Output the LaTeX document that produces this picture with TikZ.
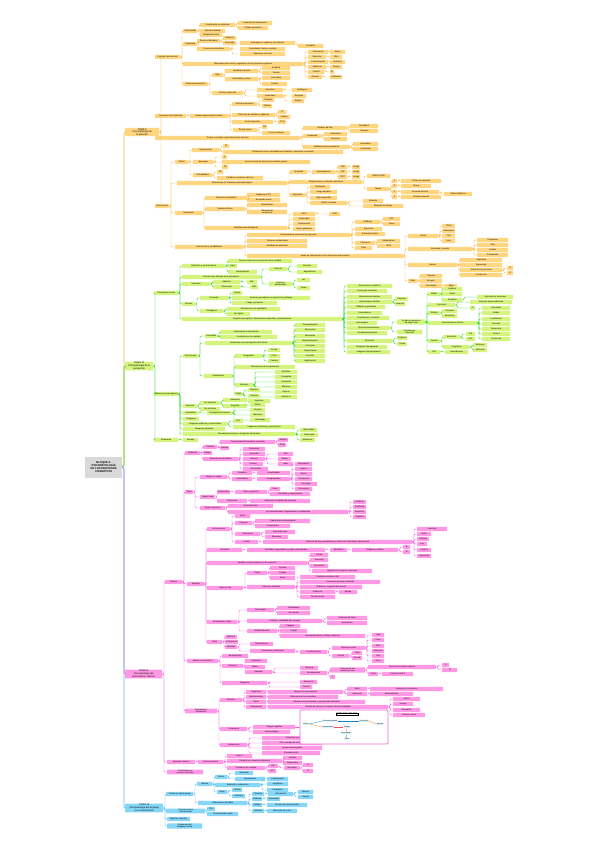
\documentclass[tikz,border=0pt]{standalone}
\usepackage{fontspec}
\setmainfont{Liberation Sans}
\definecolor{ofill}{HTML}{FFD680}\definecolor{oline}{HTML}{F9B84D}
\definecolor{gfill}{HTML}{D5F47E}\definecolor{gline}{HTML}{35D935}
\definecolor{pfill}{HTML}{FF99E6}\definecolor{pline}{HTML}{F36BDD}
\definecolor{bfill}{HTML}{86D6F7}\definecolor{bline}{HTML}{5BBDEB}
\definecolor{rfill}{HTML}{D9D9D9}
\tikzset{
 nd/.style={anchor=west,inner xsep=0.5pt,inner ysep=0.4pt,minimum height=4.3pt,rounded corners=0.5pt,align=center,font=\fontsize{2.1}{2.4}\selectfont},
 tema/.style={nd,minimum height=8pt,font=\fontsize{2.4}{2.8}\selectfont},
 ln/.style={line width=0.45pt,rounded corners=1.2pt},
 tl/.style={line width=0.7pt,rounded corners=1.5pt}
}
\newcommand\mmn[6]{\node[nd,minimum width=#5pt] (#1) at (#3,#4) {#6};\draw[ln] (#2.east) -- ++(1.6,0) |- (#1.west);}
\begin{document}
\begin{tikzpicture}[x=1pt,y=-1pt]
\useasboundingbox[fill=white] (0,0) rectangle (600,848);
\node[anchor=west,fill=rfill,minimum width=37pt,minimum height=21pt,align=center,inner sep=0.5pt,font=\fontsize{2.7}{3.2}\selectfont\bfseries] (R) at (85,467) {BLOQUE 4:\\PSICOPATOLOGÍA\\DE LOS PROCESOS\\COGNITIVOS};
% ================= ORANGE =================
\begin{scope}[nd/.append style={fill=ofill},ln/.append style={draw=oline}]
\node[tema,fill=ofill,minimum width=34pt] (O0) at (125,132) {TEMA 9\\Psicopatología de\\la atención};
\draw[tl,draw=oline] (R.east) -- ++(1.5,0) |- (O0.west);
\mmn{o1}{O0}{155}{57}{25}{Concepto de atención}
\mmn{o11}{o1}{183}{31}{14}{Selectividad}
\mmn{o111}{o11}{200}{25}{35}{Focalización en estímulos}
\mmn{o1111}{o111}{238}{23}{34}{Selección de información}
\mmn{o1112}{o111}{238}{28}{30}{Filtrado perceptivo}
\mmn{o112}{o11}{200}{31}{25}{Atención dividida}
\mmn{o113}{o11}{200}{35}{22}{Búsqueda activa}
\mmn{o12}{o1}{183}{44}{14}{Capacidad}
\mmn{o121}{o12}{197}{41}{23}{Recursos limitados}
\mmn{o1211}{o121}{223}{38}{13}{Esfuerzo}
\mmn{o1212}{o121}{223}{43}{13}{Demanda}
\mmn{o122}{o12}{197}{49}{33}{Procesos automáticos}
\mmn{o1221}{o122}{240}{43}{55}{Automáticos: rápidos y sin esfuerzo}
\mmn{o12211}{o1221}{298}{46}{25}{Paralelos}
\mmn{o1222}{o122}{240}{49}{45}{Controlados: lentos y seriales}
\mmn{o1223}{o122}{240}{54}{45}{Requieren recursos}
\mmn{o13}{o1}{183}{64}{120}{Mecanismo de control y regulación de los procesos cognitivos}
\mmn{o131}{o13}{308}{52}{20}{Orientación}\mmn{o1311}{o131}{330}{52}{15}{Alerta}
\mmn{o132}{o13}{308}{57}{18}{Selección}\mmn{o1321}{o132}{330}{57}{12}{Filtro}
\mmn{o133}{o13}{308}{62}{20}{Concentración}\mmn{o1331}{o133}{330}{62}{15}{Esfuerzo}
\mmn{o134}{o13}{308}{67}{18}{Vigilancia}\mmn{o1341}{o134}{330}{67}{12}{Tiempo}
\mmn{o135}{o13}{308}{72}{16}{Control}\mmn{o1351}{o135}{330}{72}{4}{Sí}
\mmn{o136}{o13}{308}{77}{14}{Arousal}\mmn{o1361}{o136}{330}{77}{12}{Activación}
\mmn{o14}{o1}{183}{84}{25}{Dimensiones básicas}
\mmn{o141}{o14}{212}{75}{11}{Ejes}
\mmn{o1411}{o141}{225}{71}{33}{Amplitud y tensión}
\mmn{o14111}{o1411}{262}{68}{28}{Amplitud}
\mmn{o14112}{o1411}{262}{73}{28}{Tensión}
\mmn{o1412}{o141}{225}{79}{33}{Intensidad y control}
\mmn{o14121}{o1412}{262}{78}{28}{Intensidad}
\mmn{o14122}{o1412}{262}{84}{25}{Control}
\mmn{o142}{o14}{212}{93}{31}{Control y dirección}
\mmn{o1421}{o142}{257}{90}{26}{Voluntario}\mmn{o14211}{o1421}{292}{90}{20}{Endógeno}
\mmn{o1422}{o142}{257}{96}{26}{Involuntario}\mmn{o14221}{o1422}{292}{96}{14}{Exógeno}\mmn{o14222}{o1422}{292}{101}{12}{Reflejo}
\mmn{o2}{O0}{155}{116}{31}{Funciones de la atención}
\mmn{o21}{o2}{190}{116}{38}{Redes atencionales (Posner)}
\mmn{o211}{o21}{232}{104}{25}{Red de orientación}
\mmn{o2111}{o211}{262}{100}{12}{Parietal}\mmn{o2112}{o211}{262}{106}{10}{Tálamo}
\mmn{o212}{o21}{232}{115}{43}{Detección de señales y vigilancia}
\mmn{o2121}{o212}{278}{112}{8}{d'}\mmn{o2122}{o212}{278}{117}{12}{Criterio}
\mmn{o213}{o21}{232}{122}{41}{Control ejecutivo}
\mmn{o2131}{o213}{278}{122}{8}{CCA}
\mmn{o214}{o21}{233}{130}{24}{Red de alerta}
\mmn{o2141}{o214}{262}{127}{5}{NA}\mmn{o2142}{o214}{262}{133}{28}{Locus coeruleus}
\mmn{o3}{O0}{155}{138}{145}{Teorías y modelos explicativos de la atención}
\mmn{o31}{o3}{303}{128}{44}{Modelos de filtro}
\mmn{o311}{o31}{350}{126}{28}{Broadbent}\mmn{o312}{o31}{350}{131}{28}{Treisman}
\mmn{o32}{o3}{303}{136}{18}{Capacidad}
\mmn{o321}{o32}{324}{134}{23}{Kahneman}\mmn{o322}{o32}{324}{139}{23}{Recursos}
\mmn{o33}{o3}{303}{147}{47}{Modelos de procesamiento}
\mmn{o331}{o33}{353}{144}{25}{Automático}\mmn{o332}{o33}{353}{149}{25}{Controlado}
\mmn{o4}{O0}{155}{206}{14}{Alteraciones}
\mmn{o41}{o4}{175}{162}{13}{Déficit}
\mmn{o411}{o41}{192}{150}{27}{Hipoprosexia}
\mmn{o4111}{o411}{223}{146}{6}{Sí}
\mmn{o4112}{o411}{223}{152}{120}{Disminución de la capacidad para focalizar y mantener la atención}
\mmn{o412}{o41}{193}{162}{20}{Aprosexia}
\mmn{o4121}{o412}{222}{157}{5}{y}
\mmn{o4122}{o412}{222}{162}{88}{Ausencia total de atención en estados graves}
\mmn{o4123}{o412}{222}{167}{6}{TB}
\mmn{o413}{o41}{193}{175}{19}{Distraibilidad}
\mmn{o4131}{o413}{217}{172}{6}{TB}\mmn{o4132}{o413}{217}{178}{46}{Cambios constantes del foco}
\mmn{o42}{o4}{177}{183}{110}{Alteraciones en trastornos psicopatológicos}
\mmn{o421}{o42}{290}{172}{17}{Ansiedad}
\mmn{o4211}{o421}{312}{172}{23}{Hipervigilancia}
\mmn{o42111}{o4211}{338}{167}{9}{TAG}\mmn{o421111}{o42111}{352}{167}{8}{Sesgo}
\mmn{o42112}{o4211}{338}{172}{9}{TOC}\mmn{o421121}{o42112}{352}{172}{8}{Sesgo}
\mmn{o42113}{o4211}{338}{177}{9}{TEPT}\mmn{o421131}{o42113}{352}{177}{8}{Sesgo}
\mmn{o422}{o42}{290}{182}{72}{Esquizofrenia y trastornos psicóticos}
\mmn{o4221}{o422}{367}{176}{23}{Déficit SPAN}
\mmn{o4222}{o422}{367}{189}{22}{Tareas}
\mmn{t1}{o4222}{392}{181}{5}{1}\mmn{t11}{t1}{401}{181}{40}{Tiempo de reacción}
\mmn{t2}{o4222}{392}{186}{5}{2}\mmn{t21}{t2}{401}{186}{30}{Stroop}
\mmn{t3}{o4222}{392}{192}{5}{3}\mmn{t31}{t3}{401}{192}{38}{Escucha dicótica}\mmn{t311}{t31}{444}{194}{28}{Déficit inhibitorio}
\mmn{t4}{o4222}{392}{197}{5}{4}\mmn{t41}{t4}{401}{197}{40}{Filtrado sensorial}
\mmn{o423}{o42}{290}{195}{15}{Depresión}
\mmn{o4231}{o423}{310}{187}{20}{Rumiación}
\mmn{o4232}{o423}{310}{192}{27}{Sesgo negativo}
\mmn{o4233}{o423}{310}{198}{27}{Baja capacidad}
\mmn{o4234}{o423}{310}{203}{37}{Déficit en tareas}
\mmn{o42341}{o4234}{363}{201}{20}{Esfuerzo}\mmn{o42342}{o4234}{363}{206}{40}{Memoria de trabajo}
\mmn{o43}{o4}{175}{213}{27}{Evaluación}
\mmn{o431}{o43}{205}{198}{42}{Tareas de rendimiento}
\mmn{o4311}{o431}{247}{195}{33}{Vigilancia (CPT)}\mmn{o4312}{o431}{247}{200}{33}{Búsqueda visual}
\mmn{o432}{o43}{205}{209}{40}{Escalas clínicas}
\mmn{o4321}{o432}{247}{205}{40}{Autoinformes}\mmn{o4322}{o432}{247}{212}{40}{Observación\\conductual}
\mmn{o433}{o43}{205}{228}{82}{Medidas psicofisiológicas}
\mmn{o4331}{o433}{293}{214}{22}{EEG}\mmn{o43311}{o4331}{329}{214}{11}{P300}
\mmn{o4332}{o433}{293}{219}{22}{Potenciales}
\mmn{o4333}{o433}{293}{224}{22}{Pupilometría}
\mmn{o4334}{o433}{293}{229}{22}{Resp. galvánica}
\mmn{o44}{o4}{175}{247}{68}{Intervención y rehabilitación}
\mmn{o441}{o44}{247}{235}{103}{Entrenamiento atencional y programas}
\mmn{o4411}{o441}{355}{222}{25}{Sohlberg}
\mmn{o44111}{o4411}{383}{219}{17}{APT}\mmn{o44112}{o4411}{383}{224}{17}{Fases}
\mmn{o4412}{o441}{355}{229}{27}{Ejercicios}
\mmn{o4413}{o441}{355}{234}{30}{Autoinstrucciones}
\mmn{o4414}{o441}{355}{243}{20}{Fármacos}
\mmn{o44141}{o4414}{377}{241}{23}{Estimulantes}\mmn{o44142}{o4414}{377}{246}{23}{ISRS}
\mmn{o4415}{o441}{355}{248}{17}{Otros}
\mmn{o442}{o44}{247}{241}{60}{Técnicas conductuales}
\mmn{o443}{o44}{247}{246}{60}{Modificación ambiental}
\mmn{o444}{o44}{247}{256}{156}{Áreas de intervención en los trastornos atencionales}
\mmn{a1}{o444}{408}{236}{30}{Clínica}
\mmn{a11}{a1}{442}{226}{13}{TDAH}\mmn{a12}{a1}{442}{231}{13}{Demencias}\mmn{a13}{a1}{442}{236}{13}{TCE}\mmn{a14}{a1}{442}{241}{13}{Ictus}
\mmn{a2}{o444}{408}{249}{64}{Educativa y escolar}
\mmn{a21}{a2}{477}{240}{31}{Programas}\mmn{a22}{a2}{477}{245}{31}{Aula}\mmn{a23}{a2}{477}{250}{31}{Familia}\mmn{a24}{a2}{477}{255}{31}{Profesorado}
\mmn{a3}{o444}{408}{265}{49}{Laboral}
\mmn{a31}{a3}{460}{260}{42}{Seguridad}\mmn{a32}{a3}{460}{265}{42}{Ergonomía}
\mmn{a33}{a3}{460}{270}{42}{Selección de personal}\mmn{a331}{a33}{507}{268}{6}{A}\mmn{a332}{a33}{507}{273}{6}{B}
\mmn{a34}{a3}{460}{275}{42}{Conducción}
\mmn{a4}{o444}{408}{281}{9}{Otros}
\mmn{a41}{a4}{420}{276}{22}{Deporte}\mmn{a42}{a4}{420}{281}{22}{Envejec.}\mmn{a43}{a4}{420}{286}{22}{Tecnología}\mmn{a431}{a43}{445}{286}{12}{Apps}
\end{scope}
% ================= GREEN =================
\begin{scope}[nd/.append style={fill=gfill},ln/.append style={draw=gline}]
\node[tema,fill=gfill,minimum width=28pt] (G0) at (125,366) {TEMA 10\\Psicopatología de la\\percepción};
\draw[tl,draw=gline] (R.east) -- ++(1.5,0) |- (G0.west);
\mmn{g1}{G0}{154}{293}{24}{Percepción normal}
\mmn{g11}{g1}{182}{266}{43}{Definición y características}
\mmn{g111}{g11}{228}{261}{64}{Proceso activo de construcción de la realidad}
\mmn{g112}{g11}{228}{266}{9}{Input}
\mmn{g113}{g11}{228}{272}{29}{Interpretación}
\mmn{g12}{g1}{182}{277}{78}{Factores que influyen en la percepción}
\mmn{g121}{g12}{269}{269}{18}{Internos}
\mmn{g1211}{g121}{297}{266}{20}{Atención}\mmn{g1212}{g121}{297}{272}{25}{Expectativas}
\mmn{g122}{g12}{269}{284}{23}{Externos\\ambientales}
\mmn{g1221}{g122}{297}{280}{13}{Luz}\mmn{g1222}{g122}{297}{288}{13}{Ruido}
\mmn{g13}{g1}{182}{284}{28}{Umbrales}
\mmn{g131}{g13}{213}{282}{27}{Absoluto}\mmn{g1311}{g131}{247}{282}{10}{Mín.}
\mmn{g132}{g13}{213}{287}{27}{Diferencial}\mmn{g1321}{g132}{250}{287}{8}{JND}
\mmn{g14}{g1}{182}{304}{13}{Errores}
\mmn{g141}{g14}{200}{298}{28}{Normales}
\mmn{g1411}{g141}{232}{293}{10}{Sueño}
\mmn{g1412}{g141}{232}{298}{78}{Ilusiones perceptivas en sujetos sin patología}
\mmn{g1413}{g141}{232}{303}{45}{Fatiga y privación}
\mmn{g142}{g14}{200}{311}{23}{Patológicos}
\mmn{g1421}{g142}{227}{309}{53}{Alteraciones con significado}\mmn{g1422}{g142}{227}{314}{23}{Sin objeto}
\mmn{g15}{g1}{182}{319}{160}{Engaños perceptivos: distorsiones sensoriales y alucinaciones}
\mmn{h1}{g15}{347}{286}{45}{Alucinaciones auditivas}
\mmn{h2}{g15}{347}{291}{40}{Voces que comentan}
\mmn{h3}{g15}{347}{297}{45}{Alucinaciones visuales}
\mmn{h4}{g15}{347}{302}{45}{Alucinaciones táctiles}
\mmn{h41}{h4}{395}{299}{13}{Hápticas}\mmn{h42}{h4}{395}{304}{10}{Insectos}
\mmn{h5}{g15}{347}{307}{38}{Olfativas y gustativas}
\mmn{h6}{g15}{347}{313}{35}{Cenestésicas}
\mmn{h7}{g15}{347}{318}{42}{Cinestésicas o motoras}
\mmn{h8}{g15}{347}{323}{30}{Autoscopias}
\mmn{h9}{g15}{347}{328}{43}{Tipos de alucinaciones}
\mmn{h91}{h9}{397}{322}{28}{Se dan en ausencia\\de objeto real}
\mmn{h92}{h9}{397}{332}{25}{Experiencia\\sensorial}
\mmn{i1}{h91}{428}{294}{12}{Modal.}
\mmn{i11}{i1}{442}{289}{20}{Auditiva}\mmn{i12}{i1}{442}{294}{20}{Visual}\mmn{i13}{i1}{442}{300}{20}{Somática}\mmn{i131}{i13}{477}{297}{36}{Corporales y viscerales}
\mmn{i2}{h91}{428}{305}{27}{Funcional}
\mmn{i21}{i2}{470}{302}{42}{Estímulo desencadenante}\mmn{i22}{i2}{470}{308}{5}{Sí}
\mmn{i3}{h91}{428}{313}{12}{Refleja}
\mmn{i31}{i3}{442}{311}{15}{Cruzada}\mmn{i32}{i3}{442}{316}{15}{Sinestesia}
\mmn{i4}{h91}{428}{323}{49}{Características clínicas}
\mmn{i41}{i4}{482}{308}{28}{Intensidad}\mmn{i42}{i4}{482}{313}{28}{Nitidez}\mmn{i43}{i4}{482}{319}{28}{Localización}
\mmn{i44}{i4}{482}{324}{28}{Duración}\mmn{i45}{i4}{482}{329}{28}{Frecuencia}\mmn{i46}{i4}{482}{334}{28}{Control}\mmn{i47}{i4}{482}{339}{28}{Convicción}
\mmn{i5}{h91}{428}{341}{12}{Teorías}
\mmn{i51}{i5}{443}{337}{17}{Neurobiol.}\mmn{i511}{i51}{466}{334}{9}{DA}\mmn{i512}{i51}{466}{339}{9}{5HT}
\mmn{i52}{i5}{443}{347}{27}{Cognitivas}\mmn{i521}{i52}{473}{345}{14}{Metacog.}\mmn{i522}{i52}{473}{350}{14}{Atribución}
\mmn{i6}{h91}{428}{352}{12}{Trat.}
\mmn{i61}{i6}{445}{352}{23}{Neurolépticos}
\mmn{h10}{g15}{347}{333}{40}{Pseudoalucinaciones}
\mmn{h11}{g15}{347}{341}{45}{Alucinosis}
\mmn{h111}{h11}{397}{338}{10}{Orgánica}\mmn{h112}{h11}{397}{344}{10}{Tóxica}
\mmn{h12}{g15}{347}{347}{40}{Imágenes hipnagógicas}
\mmn{h13}{g15}{347}{352}{43}{Imágenes hipnopómpicas}
\mmn{g2}{G0}{154}{394}{24}{Alteraciones perceptivas}
\mmn{g21}{g2}{183}{356}{15}{Distorsiones}
\mmn{g211}{g21}{205}{336}{12}{Intensidad}
\mmn{g2111}{g211}{220}{332}{52}{Hiperestesia e hipoestesia}\mmn{g2112}{g211}{220}{337}{57}{Anomalías en la cualidad}
\mmn{g212}{g21}{205}{343}{87}{Anomalías en la percepción de la forma}
\mmn{j1}{g212}{295}{325}{30}{Dismegalopsias}\mmn{j2}{g212}{295}{330}{30}{Macropsias}\mmn{j3}{g212}{295}{336}{30}{Micropsias}\mmn{j4}{g212}{295}{341}{30}{Metamorfopsias}
\mmn{j5}{g212}{295}{346}{30}{Porropsia}\mmn{j6}{g212}{295}{351}{30}{Dismorfopsia}\mmn{j7}{g212}{295}{356}{30}{Escisión}\mmn{j8}{g212}{295}{361}{30}{Aglutinación}
\mmn{g213}{g21}{204}{376}{28}{Clasificación}
\mmn{g2131}{g213}{235}{356}{27}{Integración}
\mmn{g21311}{g2131}{268}{350}{12}{Forma}\mmn{g21312}{g2131}{268}{356}{12}{Color}\mmn{g21313}{g2131}{268}{361}{12}{Tamaño}
\mmn{g2132}{g213}{235}{367}{60}{Alteraciones de la experiencia}
\mmn{g2133}{g213}{235}{385}{18}{Ilusiones}
\mmn{k1}{g2133}{275}{372}{22}{Afectivas}\mmn{k2}{g2133}{275}{377}{22}{Completad}\mmn{k3}{g2133}{275}{382}{22}{Pareidolia}
\mmn{k4}{g2133}{275}{387}{22}{Mnésicas}\mmn{k5}{g2133}{275}{392}{22}{Déjà vu}\mmn{k6}{g2133}{275}{397}{22}{Jamais vu}
\mmn{g2134}{g213}{235}{394}{7}{Otras}
\mmn{g21341}{g2134}{248}{390}{12}{Despers.}\mmn{g21342}{g2134}{248}{396}{12}{Desreal.}\mmn{g21343}{g2134}{248}{401}{22}{Agnosias}
\mmn{g22}{g2}{183}{406}{14}{Ilusiones}
\mmn{g221}{g22}{200}{403}{20}{Por atención}
\mmn{g2211}{g221}{223}{400}{24}{Inatención}\mmn{g2212}{g221}{223}{406}{24}{Emoción}
\mmn{g222}{g22}{200}{409}{20}{Por estímulo}
\mmn{g23}{g2}{183}{413}{15}{Pareidolias}
\mmn{g231}{g23}{207}{413}{25}{Percepción de formas}
\mmn{g2311}{g231}{250}{405}{15}{Nubes}\mmn{g2312}{g231}{250}{410}{15}{Rostros}\mmn{g2313}{g231}{250}{415}{15}{Manchas}\mmn{g2314}{g231}{250}{420}{20}{Voluntarias}
\mmn{g24}{g2}{183}{419}{16}{Imágenes}
\mmn{g25}{g2}{183}{424}{44}{Imágenes eidéticas y consecutivas}
\mmn{g251}{g25}{233}{421}{10}{Eid.}\mmn{g252}{g25}{233}{427}{62}{Imágenes mnémicas y persistentes}
\mmn{g26}{g2}{183}{429}{42}{Imágenes parásitas}
\mmn{g27}{g2}{183}{434}{112}{Pseudoalucinaciones e imágenes alucinoides}
\mmn{g271}{g27}{300}{430}{17}{Alucinoides}\mmn{g272}{g27}{300}{435}{18}{Autoscopia}\mmn{g273}{g27}{300}{440}{15}{Mnémicas}
\mmn{g3}{G0}{154}{440}{24}{Evaluación}
\mmn{g31}{g3}{183}{440}{15}{Escalas}
\end{scope}
% ================= PINK =================
\begin{scope}[nd/.append style={fill=pfill},ln/.append style={draw=pline}]
\node[tema,fill=pfill,minimum width=37pt] (P0) at (125,674) {TEMA 11\\Psicopatología del\\pensamiento: delirios};
\draw[tl,draw=pline] (R.east) -- ++(1.5,0) |- (P0.west);
\mmn{p1}{P0}{165}{582}{17}{Delirios}
\mmn{p11}{p1}{185}{453}{15}{Definición}
\mmn{p111}{p11}{203}{447}{14}{Criterios}
\mmn{p1111}{p111}{220}{442}{55}{Creencia falsa firmemente sostenida}
\mmn{p11111}{p1111}{278}{440}{10}{Jaspers}\mmn{p11112}{p1111}{278}{445}{8}{DSM}
\mmn{p1112}{p111}{220}{448}{9}{Certeza}
\mmn{p112}{p11}{203}{453}{9}{Origen}
\mmn{p113}{p11}{203}{459}{35}{Dimensiones del delirio}
\mmn{p1131}{p113}{243}{449}{22}{Convicción}\mmn{p1132}{p113}{243}{454}{22}{Extensión}
\mmn{p1133}{p113}{243}{459}{22}{Bizarría}
\mmn{p11331}{p1133}{278}{454}{15}{Alta}\mmn{p11332}{p1133}{278}{459}{13}{Media}\mmn{p11333}{p1133}{278}{464}{15}{Baja}
\mmn{p1134}{p113}{243}{464}{20}{Presión}\mmn{p1135}{p113}{243}{469}{25}{Afectividad}
\mmn{p12}{p1}{185}{492}{8}{Tipos}
\mmn{p121}{p12}{200}{477}{27}{Según su origen}
\mmn{p1211}{p121}{232}{473}{20}{Primarios}\mmn{p12111}{p1211}{257}{473}{33}{Inexplicables}
\mmn{p1212}{p121}{232}{479}{20}{Secundarios}\mmn{p12121}{p1212}{257}{479}{33}{Comprensibles}
\mmn{q1}{p12121}{295}{464}{17}{Alucinación}\mmn{q2}{p12121}{295}{469}{17}{Humor}\mmn{q3}{p12121}{295}{474}{17}{Afecto}
\mmn{q4}{p12121}{295}{479}{17}{Percepción}\mmn{q5}{p12121}{295}{484}{22}{Recuerdo}\mmn{q6}{p12121}{295}{489}{17}{Ocurrencia}
\mmn{p122}{p12}{200}{497}{15}{Según tema}
\mmn{p1221}{p122}{217}{492}{13}{Persecución}
\mmn{p12211}{p1221}{235}{492}{32}{Daño y perjuicio}
\mmn{p122111}{p12211}{270}{489}{10}{Celos}\mmn{p122112}{p12211}{270}{494}{40}{Grandeza y megalomanía}
\mmn{p1222}{p122}{217}{501}{30}{Referencia}\mmn{p12221}{p1222}{250}{501}{60}{Atribución de significado personal}
\mmn{p123}{p12}{200}{508}{25}{Según estructura}
\mmn{p1231}{p123}{228}{506}{45}{Sistematizados}
\mmn{p1232}{p123}{228}{512}{120}{No sistematizados, fragmentarios y cambiantes}
\mmn{q11}{p1232}{353}{502}{13}{Paranoia}\mmn{q12}{p1232}{353}{507}{13}{Parafrenia}\mmn{q13}{p1232}{353}{512}{13}{Esquizofr.}\mmn{q14}{p1232}{353}{517}{13}{Orgánico}
\mmn{p13}{p1}{187}{584}{17}{Temática}
\mmn{p131}{p13}{207}{529}{23}{Persecutorios}
\mmn{p1311}{p131}{235}{516}{15}{Daño}
\mmn{p1312}{p131}{235}{523}{17}{Perjuicio}
\mmn{p13121}{p1312}{255}{521}{55}{Creencia de ser perseguido}\mmn{p13122}{p1312}{255}{526}{35}{Conspiración}
\mmn{p1313}{p131}{235}{534}{25}{Referencia}
\mmn{p13131}{p1313}{265}{532}{30}{Autorreferencia}\mmn{p13132}{p1313}{265}{537}{23}{Mensajes}
\mmn{p1314}{p131}{235}{542}{23}{Control}
\mmn{p13141}{p1314}{263}{542}{149}{Creencia de que pensamientos y actos son controlados desde fuera}
\mmn{r1}{p13141}{417}{529}{30}{Inserción}\mmn{r2}{p13141}{417}{534}{14}{Robo}\mmn{r3}{p13141}{417}{539}{12}{Difusión}
\mmn{r4}{p13141}{417}{544}{10}{Eco}\mmn{r5}{p13141}{417}{550}{14}{Lectura}\mmn{r6}{p13141}{417}{556}{14}{Imposición}
\mmn{p132}{p13}{207}{550}{35}{Grandeza}
\mmn{p1321}{p132}{247}{550}{78}{Identidad, capacidades y poder extraordinario}
\mmn{p13211}{p1321}{330}{550}{17}{Mesiánico}
\mmn{p132111}{p13211}{352}{550}{46}{Religioso y místico}
\mmn{p1321111}{p132111}{403}{547}{7}{A}\mmn{p1321112}{p132111}{403}{552}{7}{B}
\mmn{p133}{p13}{207}{563}{100}{Somáticos, hipocondríacos y de negación}
\mmn{p1331}{p133}{310}{555}{18}{Cotard}\mmn{p1332}{p133}{310}{560}{18}{Dismorfia}\mmn{p1333}{p133}{310}{566}{18}{Parasitosis}
\mmn{p1334}{p133}{312}{571}{60}{Negación de órganos corporales}
\mmn{p134}{p13}{207}{588}{36}{Culpa y ruina}
\mmn{p1341}{p134}{247}{573}{20}{Culpa}
\mmn{p13411}{p1341}{270}{568}{25}{Pecado}\mmn{p13412}{p1341}{270}{573}{25}{Castigo}\mmn{p13413}{p1341}{270}{578}{25}{Ruina}
\mmn{p1342}{p134}{247}{587}{48}{Pobreza y nihilismo}
\mmn{p13421}{p1342}{300}{577}{55}{Pérdida económica total}\mmn{p13422}{p1342}{300}{582}{80}{Convicción de estar arruinado}
\mmn{p13423}{p1342}{300}{587}{62}{Nihilismo y negación del mundo}\mmn{p13424}{p1342}{300}{592}{35}{Catástrofe}\mmn{p134241}{p13424}{339}{592}{18}{Mundo}
\mmn{p13425}{p1342}{300}{597}{35}{Fin del mundo}
\mmn{p135}{p13}{207}{622}{30}{Erotomanía y celos}
\mmn{p1351}{p135}{247}{610}{27}{Erotomanía}
\mmn{p13511}{p1351}{277}{608}{33}{Clérambault}\mmn{p13512}{p1351}{277}{613}{33}{Ser amado}
\mmn{p1352}{p135}{247}{621}{75}{Celotipia: infidelidad de la pareja}
\mmn{p13521}{p1352}{327}{618}{40}{Síndrome de Otelo}\mmn{p13522}{p1352}{327}{623}{40}{Alcoholismo}
\mmn{p1353}{p135}{247}{631}{30}{Misidentificación}
\mmn{p13531}{p1353}{280}{626}{20}{Capgras}\mmn{p13532}{p1353}{280}{631}{27}{Frégoli}\mmn{p13533}{p1353}{280}{636}{85}{Intermetamorfosis y dobles subjetivos}
\mmn{p136}{p13}{207}{642}{15}{Otros}
\mmn{p1361}{p136}{225}{637}{12}{Místicos}\mmn{p1362}{p136}{225}{642}{13}{Fantásticos}
\mmn{p1363}{p136}{225}{647}{12}{Nihilistas}
\mmn{p13631}{p1363}{250}{644}{23}{Metamorfosis}
\mmn{p13632}{p1363}{250}{651}{45}{Zoantropía y licantropía}
\mmn{p136321}{p13632}{300}{652}{27}{Transformación}
\mmn{s1}{p136321}{332}{648}{33}{Animal concreto}
\mmn{s11}{s1}{372}{635}{12}{Lobo}\mmn{s12}{s1}{372}{640}{12}{Perro}\mmn{s13}{s1}{372}{646}{12}{Gato}
\mmn{s14}{s1}{372}{651}{12}{Serpiente}\mmn{s15}{s1}{372}{656}{12}{Ave}\mmn{s16}{s1}{372}{661}{12}{Otros}
\mmn{s2}{p136321}{332}{656}{17}{Parcial}\mmn{s21}{s2}{352}{653}{10}{Total}\mmn{s22}{s2}{352}{658}{10}{Parcial}
\mmn{p14}{p1}{187}{661}{31}{Delirios en trastornos}
\mmn{p141}{p14}{222}{656}{26}{Esquizofrenia}
\mmn{p142}{p14}{222}{666}{21}{Afectivos}
\mmn{p1421}{p142}{245}{661}{22}{Depresión}\mmn{p1422}{p142}{245}{667}{20}{Manía}
\mmn{p1423}{p142}{245}{672}{27}{Delirante}
\mmn{p14231}{p1423}{300}{668}{18}{Paranoia}
\mmn{p14232}{p1423}{300}{673}{27}{Erotomaníaco}
\mmn{p142321}{p14232}{330}{670}{35}{Creencia de ser\\amado por otro}
\mmn{p1423211}{p142321}{368}{667}{68}{Persona de estatus superior}
\mmn{u1}{p1423211}{442}{665}{7}{A}\mmn{u2}{p1423211}{442}{670}{15}{B}
\mmn{p1423212}{p142321}{368}{674}{10}{DSM}\mmn{u3}{p1423212}{382}{674}{31}{Criterios DSM-5}
\mmn{p142322}{p14232}{330}{677}{5}{+}
\mmn{p143}{p14}{222}{683}{45}{Orgánicos}
\mmn{p1431}{p143}{300}{682}{17}{Demencia}\mmn{p1432}{p143}{300}{687}{12}{Tóxicos}
\mmn{p15}{p1}{185}{711}{32}{Evaluación y\\tratamiento}
\mmn{p151}{p15}{220}{700}{22}{Modelos}
\mmn{p1511}{p151}{246}{692}{20}{Cognitivos}
\mmn{p15111}{p1511}{268}{692}{75}{Sesgos de razonamiento}
\mmn{v1}{p15111}{347}{689}{20}{Salto}\mmn{v11}{v1}{370}{689}{73}{Jumping to conclusions}
\mmn{v2}{p15111}{347}{694}{20}{Atribución}\mmn{v21}{v2}{370}{694}{43}{Externalizante}
\mmn{p1512}{p151}{246}{697}{20}{Motivacionales}\mmn{p15121}{p1512}{268}{697}{70}{Defensa ante la autoestima}
\mmn{p1513}{p151}{246}{702}{20}{Déficit}\mmn{p15131}{p1513}{268}{702}{97}{Alteraciones perceptivas y experiencias anómalas}
\mmn{p1514}{p151}{246}{707}{20}{Integradores}
\mmn{p15141}{p1514}{268}{707}{120}{Modelo de Garety y Freeman: factores múltiples}
\mmn{w1}{p15141}{393}{699}{27}{Afecto}\mmn{w2}{p15141}{393}{704}{20}{Sesgos}\mmn{w3}{p15141}{393}{710}{27}{Anomalías}\mmn{w4}{p15141}{393}{715}{32}{Contexto social}
\mmn{p152}{p15}{220}{729}{27}{Tratamiento}
\mmn{p1521}{p152}{253}{727}{42}{Terapia cognitiva}
\mmn{p1522}{p152}{253}{732}{37}{Farmacológico}
\mmn{p153}{p15}{220}{745}{27}{Intervención}
\mmn{p1531}{p153}{262}{738}{80}{Entrevista y escalas de evaluación}
\mmn{p1532}{p153}{262}{743}{60}{PDI y escalas de creencias}
\mmn{p1533}{p153}{262}{748}{60}{Terapia metacognitiva}
\mmn{p1534}{p153}{262}{753}{58}{Psicoeducación}
\mmn{p2}{P0}{167}{762}{28}{Ejemplos clínicos}
\mmn{p21}{p2}{198}{762}{25}{Casos prácticos}
\mmn{p211}{p21}{227}{756}{25}{Caso 1}
\mmn{p212}{p21}{227}{761}{55}{Paciente con ideas de referencia}
\mmn{p2121}{p212}{283}{758}{19}{Análisis}\mmn{p2122}{p212}{283}{763}{19}{Diagnóstico}
\mmn{p213}{p21}{227}{768}{38}{Paciente con celotipia}
\mmn{p2131}{p213}{268}{766}{10}{Eje}\mmn{p2132}{p213}{268}{771}{8}{DX}
\mmn{p21311}{p2131}{284}{768}{16}{Resumen}\mmn{p213111}{p21311}{303}{765}{10}{A}\mmn{p213112}{p21311}{303}{771}{10}{B}
\mmn{p3}{P0}{167}{772}{36}{Conclusiones y\\resumen del tema}
% frame
\draw[pline,line width=0.8pt,fill=white,rounded corners=1pt] (300,710) rectangle (388,744);
\coordinate (fw) at (300,727);
\draw[ln] (p1521.east) -- (fw);
\node[draw=black,fill=white,line width=0.3pt,inner sep=0.5pt,font=\fontsize{2.2}{2.5}\selectfont\bfseries] (ft) at (347,714) {MAPA DEL DELIRIO};
\begin{scope}[every node/.style={fill=cyan!15,inner sep=0.4pt,rounded corners=0.4pt,font=\fontsize{1.8}{2}\selectfont}]
\node (f1) at (306,724) {Delirio};
\node (f2) at (330,721) {Creencia anómala};
\node (f3) at (328,727) {Interpretación};
\node (f4) at (347,727) {Sesgos};
\node (f5) at (364,721) {Convicción};
\node (f6) at (380,724) {Idea fija};
\node (f7) at (346,733) {Incorregible};
\node (f8) at (347,739) {Falso};
\end{scope}
\draw[cyan!70!blue,line width=0.3pt] (f1.east) -- (f2.west);
\draw[orange,line width=0.3pt] (f1.east) -- (f3.west);
\draw[red!70,line width=0.3pt] (f3.east) -- (f4.west);
\draw[cyan!70!blue,line width=0.3pt] (f2.east) -- (f5.west);
\draw[orange,line width=0.3pt] (f5.east) -- (f6.west);
\draw[red!70,line width=0.3pt] (f4.south) -- (f7.north);
\draw[cyan!70!blue,line width=0.3pt] (f7.south) -- (f8.north);
\end{scope}
% ================= BLUE =================
\begin{scope}[nd/.append style={fill=bfill},ln/.append style={draw=bline}]
\node[tema,fill=bfill,minimum width=38pt] (B0) at (125,808) {TEMA 12\\Psicopatología del lenguaje\\y la comunicación};
\draw[tl,draw=bline] (R.east) -- ++(1.5,0) |- (B0.west);
\mmn{b1}{B0}{166}{794}{27}{Trastornos del lenguaje}
\mmn{b11}{b1}{197}{784}{15}{Afasias}
\mmn{b111}{b11}{215}{777}{12}{Broca}
\mmn{b1111}{b111}{235}{773}{18}{Expresión}\mmn{b1112}{b111}{235}{779}{30}{Agramatismo}
\mmn{b112}{b11}{215}{785}{45}{Wernicke y conducción}
\mmn{b1121}{b112}{267}{779}{21}{Comprensión}\mmn{b1122}{b112}{267}{784}{21}{Jergafasia}\mmn{b1123}{b112}{267}{790}{21}{Parafasias}
\mmn{b113}{b11}{217}{792}{10}{Otras}
\mmn{b1131}{b113}{232}{790}{10}{Global}\mmn{b1132}{b113}{232}{796}{13}{Anómica}
\mmn{b12}{b1}{198}{803}{49}{Alteraciones del habla}
\mmn{b121}{b12}{252}{794}{12}{Disartria}
\mmn{b1211}{b121}{268}{794}{25}{Articulación}
\mmn{b12111}{b1211}{298}{792}{15}{Motora}\mmn{b12112}{b1211}{298}{797}{15}{Neural}
\mmn{b122}{b12}{252}{799}{10}{Disfemia}\mmn{b1221}{b122}{267}{799}{13}{Tartamudez}
\mmn{b123}{b12}{252}{805}{10}{Dislalia}\mmn{b1231}{b123}{267}{805}{40}{Errores de pronunciación}
\mmn{b124}{b12}{252}{811}{12}{Disfonía}\mmn{b1241}{b124}{267}{811}{30}{Alteración de la voz}
\mmn{b2}{B0}{166}{811}{39}{Trastornos de la\\comunicación}
\mmn{b21}{b2}{207}{809}{8}{TEL}\mmn{b22}{b2}{207}{814}{31}{Comunicación social}
\mmn{b3}{B0}{167}{819}{23}{Mutismo selectivo}
\mmn{b4}{B0}{167}{826}{35}{Evaluación del\\lenguaje y habla}
\end{scope}
\end{tikzpicture}
\end{document}
